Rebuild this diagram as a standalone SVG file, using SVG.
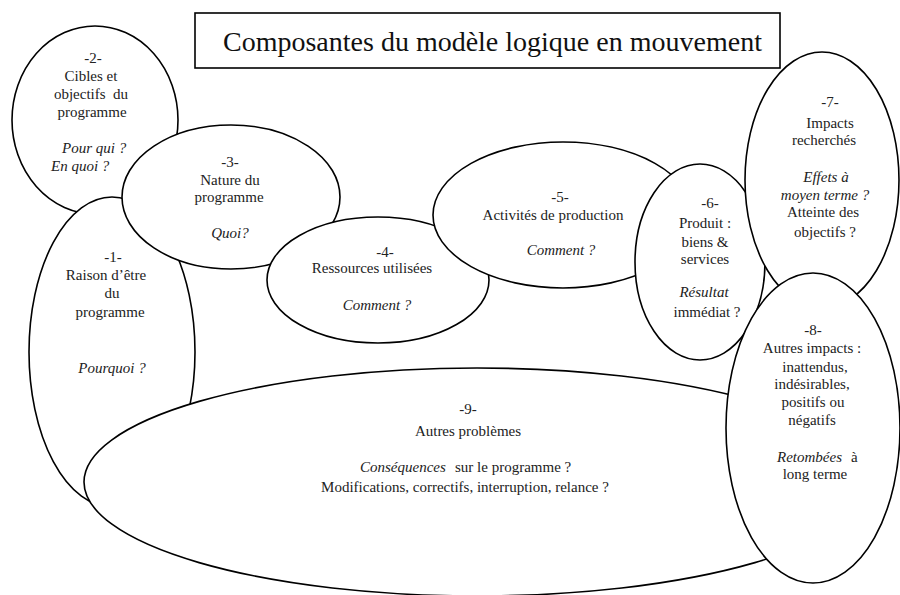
<svg xmlns="http://www.w3.org/2000/svg" width="900" height="595" viewBox="0 0 900 595" font-family="Liberation Serif, serif">
<style>
.e{fill:#fff;stroke:#000;stroke-width:1.6}
text{font-size:15px;fill:#222}
.c{text-anchor:middle}
.i{font-style:italic}
.t{font-size:28px;fill:#111}
</style>
<rect width="900" height="595" fill="#fff"/>
<g id="title">
<rect x="195" y="13" width="585" height="55" fill="#fff" stroke="#000" stroke-width="1.6"/>
<text class="t" x="223" y="51">Composantes du modèle logique en mouvement</text>
</g>
<g id="connectors"></g>
<g id="n2">
<ellipse class="e" cx="95" cy="120" rx="83" ry="94"/>
<text class="c" x="93" y="63">-2-</text>
<text class="c" x="91" y="81">Cibles et</text>
<text class="c" x="91" y="99" xml:space="preserve">objectifs  du</text>
<text class="c" x="92" y="117">programme</text>
<text class="i" x="62" y="153">Pour qui ?</text>
<text class="i" x="51" y="171">En quoi ?</text>
</g>
<g id="n1">
<ellipse class="e" cx="112" cy="352" rx="83" ry="155"/>
<text class="c" x="113" y="262">-1-</text>
<text class="c" x="106" y="280">Raison d’être</text>
<text class="c" x="112" y="298">du</text>
<text class="c" x="110" y="317">programme</text>
<text class="c i" x="112" y="373">Pourquoi ?</text>
</g>
<g id="n3">
<ellipse class="e" cx="231" cy="197" rx="109" ry="72"/>
<text class="c" x="230" y="167">-3-</text>
<text class="c" x="230" y="185">Nature du</text>
<text class="c" x="229" y="202">programme</text>
<text class="c i" x="230" y="238">Quoi?</text>
</g>
<g id="n4">
<ellipse class="e" cx="378" cy="280" rx="111" ry="63"/>
<text class="c" x="385" y="257">-4-</text>
<text class="c" x="372" y="273">Ressources utilisées</text>
<text class="c i" x="377" y="310">Comment ?</text>
</g>
<g id="n5">
<ellipse class="e" cx="563" cy="215" rx="130" ry="73"/>
<text class="c" x="560" y="202">-5-</text>
<text class="c" x="553" y="220">Activités de production</text>
<text class="c i" x="561" y="255">Comment ?</text>
</g>
<g id="n6">
<ellipse class="e" cx="700" cy="262" rx="65" ry="98"/>
<text class="c" x="710" y="208">-6-</text>
<text class="c" x="705" y="228">Produit :</text>
<text class="c" x="705" y="247">biens &amp;</text>
<text class="c" x="705" y="264">services</text>
<text class="c i" x="704" y="297">Résultat</text>
<text class="c" x="707" y="317">immédiat ?</text>
</g>
<g id="n7">
<ellipse class="e" cx="822" cy="180" rx="77" ry="128"/>
<text class="c" x="830" y="107">-7-</text>
<text class="c" x="830" y="128">Impacts</text>
<text class="c" x="824" y="145">recherchés</text>
<text class="c i" x="826" y="182">Effets à</text>
<text class="c i" x="825" y="200">moyen terme ?</text>
<text class="c" x="823" y="217">Atteinte des</text>
<text class="c" x="825" y="237">objectifs ?</text>
</g>
<g id="n9">
<ellipse class="e" cx="477" cy="482" rx="393" ry="114"/>
<text class="c" x="468" y="414">-9-</text>
<text class="c" x="468" y="436">Autres problèmes</text>
<text x="360" y="472"><tspan class="i">Conséquences</tspan><tspan x="455">sur le programme ?</tspan></text>
<text class="c" x="465" y="492">Modifications, correctifs, interruption, relance ?</text>
</g>
<g id="n8">
<ellipse class="e" cx="813" cy="428" rx="87" ry="155"/>
<text class="c" x="813" y="335">-8-</text>
<text class="c" x="812" y="353">Autres impacts :</text>
<text class="c" x="815" y="372">inattendus,</text>
<text class="c" x="812" y="389">indésirables,</text>
<text class="c" x="813" y="407">positifs ou</text>
<text class="c" x="812" y="425">négatifs</text>
<text x="777" y="462"><tspan class="i">Retombées</tspan><tspan x="851">à</tspan></text>
<text class="c" x="815" y="479">long terme</text>
</g>
</svg>
